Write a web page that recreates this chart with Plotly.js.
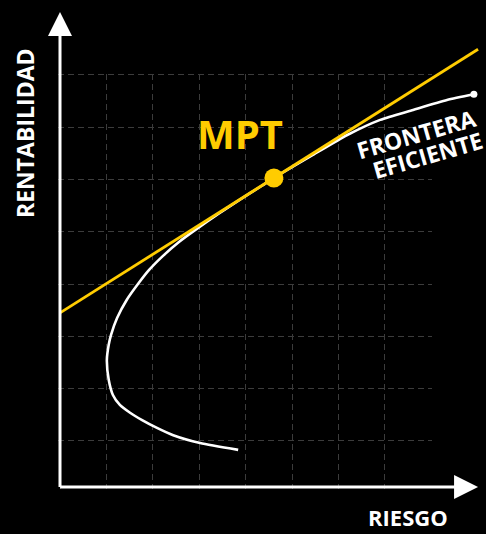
<!DOCTYPE html>
<html>
<head>
<meta charset="utf-8">
<script src="https://cdn.plot.ly/plotly-3.0.1.min.js"></script>
<style>html,body{margin:0;padding:0;background:#000;}</style>
</head>
<body>
<div id="chart" style="width:486px;height:534px;"></div>
<script>
// Efficient frontier (risk, return)
const frontierRisk   = [3.84, 3.02, 2.44, 2.09, 1.77, 1.51, 1.29, 1.14, 1.05, 1.01, 1.05, 1.10, 1.23, 1.44, 1.68, 1.92, 2.22, 2.57, 2.97, 3.41, 3.87, 4.35, 4.61, 5.45, 6.19, 6.90, 7.61, 8.34, 8.92];
const frontierReturn = [0.71, 0.84, 0.99, 1.13, 1.28, 1.42, 1.57, 1.76, 2.05, 2.43, 2.72, 2.91, 3.23, 3.58, 3.88, 4.15, 4.42, 4.69, 4.95, 5.22, 5.49, 5.76, 5.91, 6.35, 6.73, 7.02, 7.21, 7.40, 7.51];
// Capital market line
const cmlRisk   = [0, 9.01];
const cmlReturn = [3.33, 8.37];
// Tangency portfolio (MPT)
const mptRisk   = [4.61];
const mptReturn = [5.91];
// Texts
const mptLabel = 'MPT';
const frontierLabel = ['FRONTERA', 'EFICIENTE'];
const xLabel = 'RIESGO';
const yLabel = 'RENTABILIDAD';

const YELLOW = '#FFCC00';
const W = 486, H = 534, ML = 58, MB = 45;
const pxX = 46.4, pxY = 52.3;
const plotW = W - ML, plotH = H - MB;
const x0 = -(60 - ML) / pxX, xMax = x0 + plotW / pxX;
const y0 = -((H - MB) - 487) / pxY, yMax = y0 + plotH / pxY;
const gridXMax = 8.01, gridYMax = 7.9;

const last = frontierRisk.length - 1;
const traces = [
  {x: [null], y: [null], xaxis: 'x', yaxis: 'y', mode: 'markers', hoverinfo: 'skip'},
  {x: frontierRisk, y: frontierReturn, xaxis: 'x2', yaxis: 'y2', mode: 'lines',
   line: {color: '#ffffff', width: 2.6, shape: 'spline', smoothing: 0.6}},
  {x: [frontierRisk[last]], y: [frontierReturn[last]], xaxis: 'x2', yaxis: 'y2', mode: 'markers',
   marker: {color: '#ffffff', size: 7}},
  {x: cmlRisk, y: cmlReturn, xaxis: 'x2', yaxis: 'y2', mode: 'lines',
   line: {color: YELLOW, width: 2.8}},
  {x: mptRisk, y: mptReturn, xaxis: 'x2', yaxis: 'y2', mode: 'markers',
   marker: {color: YELLOW, size: 19}}
];

const gridAxis = {showline: false, zeroline: false, showticklabels: false, ticks: '',
  showgrid: true, gridcolor: '#3c3c3c', gridwidth: 1, griddash: '6px,4px', fixedrange: true};

const txt = (size, color) => ({family: 'Open Sans', size: size, weight: 700, color: color});
const centered = {showarrow: false, xanchor: 'center', yanchor: 'middle'};

const layout = {
  width: W, height: H,
  margin: {l: ML, r: 0, t: 0, b: MB, pad: 0},
  paper_bgcolor: '#000000', plot_bgcolor: 'rgba(0,0,0,0)',
  showlegend: false, hovermode: false,
  xaxis: Object.assign({}, gridAxis, {range: [x0, gridXMax], domain: [0, (gridXMax - x0) / (xMax - x0)], anchor: 'y', tick0: 0, dtick: 1}),
  yaxis: Object.assign({}, gridAxis, {range: [y0, gridYMax], domain: [0, (gridYMax - y0) / (yMax - y0)], anchor: 'x', tick0: 0.88, dtick: 1}),
  xaxis2: {range: [x0, xMax], domain: [0, 1], anchor: 'y2', visible: false, fixedrange: true},
  yaxis2: {range: [y0, yMax], domain: [0, 1], anchor: 'x2', visible: false, fixedrange: true},
  annotations: [
    // axes with arrow heads
    {xref: 'x2', yref: 'y2', axref: 'x2', ayref: 'y2', x: 0, y: 9.08, ax: 0, ay: -0.03, text: '',
     showarrow: true, arrowhead: 2, arrowsize: 1.6, arrowwidth: 3, arrowcolor: '#ffffff', standoff: 0},
    {xref: 'x2', yref: 'y2', axref: 'x2', ayref: 'y2', x: 9.01, y: 0, ax: -0.03, ay: 0, text: '',
     showarrow: true, arrowhead: 2, arrowsize: 1.6, arrowwidth: 3, arrowcolor: '#ffffff', standoff: 0},
    Object.assign({xref: 'x2', yref: 'y2', x: 3.87, y: 6.76, text: mptLabel, font: txt(40, YELLOW)}, centered),
    Object.assign({xref: 'x2', yref: 'y2', x: 7.67, y: 6.75, text: frontierLabel[0], textangle: -16, font: txt(23, '#ffffff')}, centered),
    Object.assign({xref: 'x2', yref: 'y2', x: 7.92, y: 6.35, text: frontierLabel[1], textangle: -16, font: txt(23, '#ffffff')}, centered),
    Object.assign({xref: 'paper', yref: 'paper', x: (408 - ML) / plotW, y: (plotH - 517) / plotH, text: xLabel, font: txt(22, '#ffffff')}, centered),
    Object.assign({xref: 'paper', yref: 'paper', x: (24.5 - ML) / plotW, y: (plotH - 133.5) / plotH, text: yLabel, textangle: -90, font: txt(23, '#ffffff')}, centered)
  ]
};

Plotly.newPlot('chart', traces, layout, {staticPlot: true, displayModeBar: false});
</script>
</body>
</html>
